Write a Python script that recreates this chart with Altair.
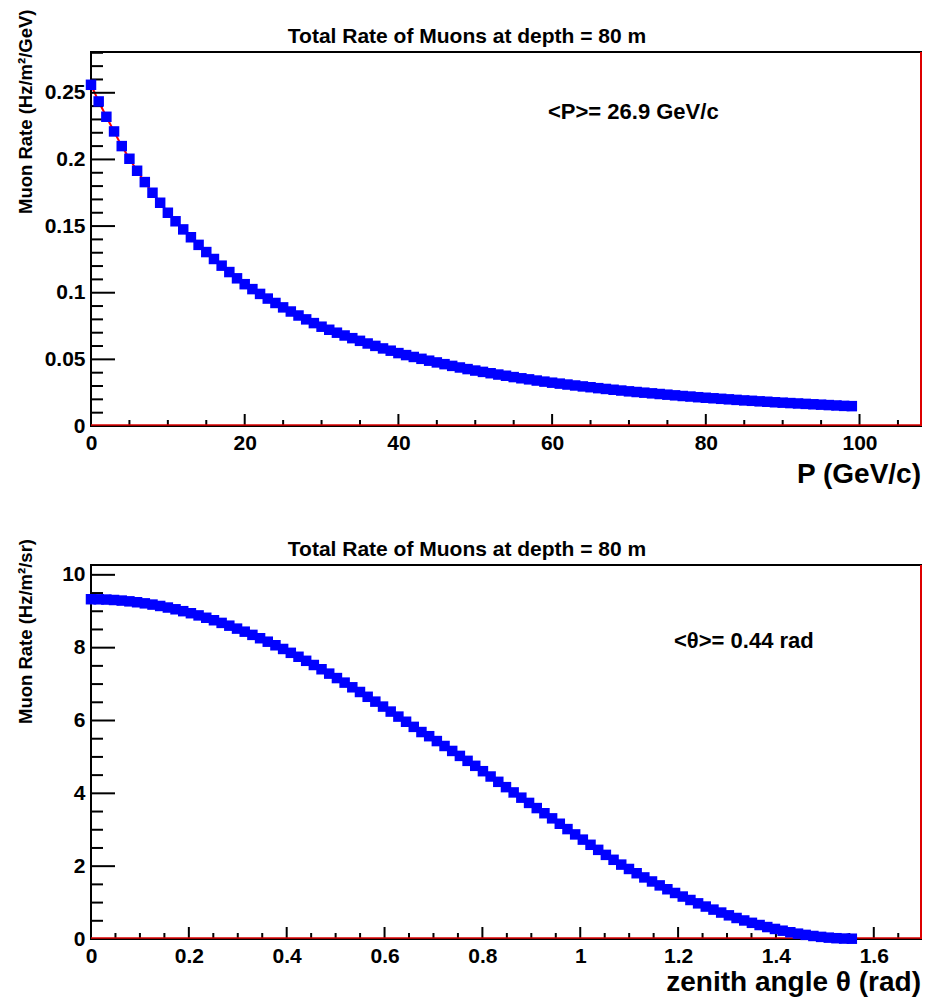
import altair as alt
import pandas as pd

FONT = "Liberation Sans"
W, H = 830, 374

# ---------------- top panel data ----------------
P_VALUES = list(range(100))
RATE_P = [
    0.2560, 0.2435, 0.2320, 0.2210, 0.2100, 0.2005, 0.1915, 0.1830, 0.1750, 0.1675,
    0.1600, 0.1536, 0.1475, 0.1416, 0.1359, 0.1305, 0.1253, 0.1203, 0.1155, 0.1108,
    0.1064, 0.1027, 0.0991, 0.0956, 0.0923, 0.0890, 0.0859, 0.0829, 0.0800, 0.0772,
    0.0745, 0.0722, 0.0700, 0.0679, 0.0659, 0.0639, 0.0619, 0.0601, 0.0582, 0.0565,
    0.0547, 0.0532, 0.0518, 0.0504, 0.0490, 0.0477, 0.0464, 0.0451, 0.0439, 0.0427,
    0.0416, 0.0406, 0.0396, 0.0386, 0.0377, 0.0367, 0.0358, 0.0350, 0.0341, 0.0333,
    0.0325, 0.0318, 0.0311, 0.0304, 0.0297, 0.0291, 0.0284, 0.0278, 0.0272, 0.0266,
    0.0260, 0.0255, 0.0250, 0.0245, 0.0240, 0.0235, 0.0230, 0.0225, 0.0221, 0.0216,
    0.0212, 0.0208, 0.0204, 0.0200, 0.0196, 0.0192, 0.0189, 0.0185, 0.0182, 0.0178,
    0.0175, 0.0172, 0.0169, 0.0166, 0.0163, 0.0160, 0.0157, 0.0154, 0.0151, 0.0149,
]
P_DOMAIN = [0, 108]
RATE_P_DOMAIN = [0, 0.2806]
P_MAJOR = [0, 20, 40, 60, 80, 100]
P_MINOR = [5, 10, 15, 25, 30, 35, 45, 50, 55, 65, 70, 75, 85, 90, 95, 105]
RP_MAJOR = [0, 0.05, 0.1, 0.15, 0.2, 0.25]
RP_MINOR = [0.01, 0.02, 0.03, 0.04, 0.06, 0.07, 0.08, 0.09, 0.11, 0.12, 0.13, 0.14,
            0.16, 0.17, 0.18, 0.19, 0.21, 0.22, 0.23, 0.24, 0.26, 0.27, 0.28]
TITLE = "Total Rate of Muons at depth = 80 m"
TOP_YTITLE = "Muon Rate (Hz/m\u00b2/GeV)"
TOP_XTITLE = "P (GeV/c)"
TOP_NOTE = "<P>= 26.9 GeV/c"

# ---------------- bottom panel data ----------------
THETA = [
    0.0000, 0.0157, 0.0314, 0.0471, 0.0628, 0.0785, 0.0942, 0.1100, 0.1257, 0.1414,
    0.1571, 0.1728, 0.1885, 0.2042, 0.2199, 0.2356, 0.2513, 0.2670, 0.2827, 0.2985,
    0.3142, 0.3299, 0.3456, 0.3613, 0.3770, 0.3927, 0.4084, 0.4241, 0.4398, 0.4555,
    0.4712, 0.4869, 0.5027, 0.5184, 0.5341, 0.5498, 0.5655, 0.5812, 0.5969, 0.6126,
    0.6283, 0.6440, 0.6597, 0.6754, 0.6912, 0.7069, 0.7226, 0.7383, 0.7540, 0.7697,
    0.7854, 0.8011, 0.8168, 0.8325, 0.8482, 0.8639, 0.8796, 0.8954, 0.9111, 0.9268,
    0.9425, 0.9582, 0.9739, 0.9896, 1.0053, 1.0210, 1.0367, 1.0524, 1.0681, 1.0838,
    1.0996, 1.1153, 1.1310, 1.1467, 1.1624, 1.1781, 1.1938, 1.2095, 1.2252, 1.2409,
    1.2566, 1.2723, 1.2881, 1.3038, 1.3195, 1.3352, 1.3509, 1.3666, 1.3823, 1.3980,
    1.4137, 1.4294, 1.4451, 1.4608, 1.4765, 1.4923, 1.5080, 1.5237, 1.5394, 1.5551,
]
RATE_T = [
    9.330, 9.328, 9.321, 9.309, 9.293, 9.272, 9.247, 9.217, 9.183, 9.145,
    9.102, 9.054, 9.002, 8.946, 8.886, 8.821, 8.753, 8.680, 8.604, 8.523,
    8.439, 8.351, 8.259, 8.164, 8.066, 7.964, 7.858, 7.750, 7.639, 7.524,
    7.407, 7.287, 7.165, 7.040, 6.912, 6.783, 6.651, 6.518, 6.382, 6.245,
    6.107, 5.966, 5.825, 5.683, 5.569, 5.435, 5.300, 5.164, 5.028, 4.892,
    4.755, 4.608, 4.462, 4.316, 4.170, 4.025, 3.881, 3.737, 3.595, 3.454,
    3.313, 3.165, 3.018, 2.872, 2.729, 2.587, 2.448, 2.310, 2.175, 2.043,
    1.923, 1.806, 1.691, 1.580, 1.472, 1.366, 1.264, 1.166, 1.071, 0.979,
    0.891, 0.807, 0.726, 0.650, 0.577, 0.509, 0.444, 0.384, 0.328, 0.276,
    0.228, 0.185, 0.147, 0.113, 0.083, 0.058, 0.037, 0.022, 0.012, 0.008,
]
T_DOMAIN = [0, 1.6965]
RATE_T_DOMAIN = [0, 10.27]
T_MAJOR = [0, 0.2, 0.4, 0.6, 0.8, 1.0, 1.2, 1.4, 1.6]
T_MINOR = [0.05, 0.1, 0.15, 0.25, 0.3, 0.35, 0.45, 0.5, 0.55, 0.65, 0.7, 0.75,
           0.85, 0.9, 0.95, 1.05, 1.1, 1.15, 1.25, 1.3, 1.35, 1.45, 1.5, 1.55, 1.65]
RT_MAJOR = [0, 2, 4, 6, 8, 10]
RT_MINOR = [0.5, 1, 1.5, 2.5, 3, 3.5, 4.5, 5, 5.5, 6.5, 7, 7.5, 8.5, 9, 9.5]
BOT_YTITLE = "Muon Rate (Hz/m\u00b2/sr)"
BOT_XTITLE = "zenith angle \u03b8 (rad)"
BOT_NOTE = "<\u03b8>= 0.44 rad"


def text_layer(txt, x, y, size, align="left", angle=0, weight="bold"):
    return alt.Chart(pd.DataFrame({"t": [txt]})).mark_text(
        font=FONT, fontSize=size, fontWeight=weight, align=align,
        baseline="alphabetic", angle=angle, color="black"
    ).encode(text="t:N", x=alt.value(x), y=alt.value(y))


def make_axis(values):
    return alt.Axis(
        values=values, labelExpr="'' + datum.value", ticks=False, tickSize=0,
        domain=False, grid=False, labelFont=FONT, labelFontSize=21,
        labelFontWeight="bold", labelColor="black", labelPadding=6, title=None,
        labelFlush=False, labelOverlap=False)


def panel(xs, ys, xdom, ydom, xmaj, xmin, ymaj, ymin, ytitle, xtitle, note,
          note_xy, ytitle_y, xtitle_y, marker=False):
    xsc = alt.Scale(domain=xdom, nice=False, zero=False)
    ysc = alt.Scale(domain=ydom, nice=False, zero=False)
    xax = make_axis(xmaj)
    yax = make_axis(ymaj)
    df = pd.DataFrame({"x": xs, "y": ys})
    base = alt.Chart(df)
    curve = base.mark_line(color="#ff0000", strokeWidth=2).encode(
        x=alt.X("x:Q", scale=xsc, axis=xax),
        y=alt.Y("y:Q", scale=ysc, axis=yax),
    )
    pts = base.mark_square(size=110, color="#0000ff", opacity=1).encode(
        x=alt.X("x:Q", scale=xsc, axis=xax),
        y=alt.Y("y:Q", scale=ysc, axis=yax),
    )
    ymaj_r = alt.Chart(pd.DataFrame({"v": ymaj})).mark_rule(color="black", strokeWidth=2).encode(
        y=alt.Y("v:Q", scale=ysc, axis=yax), x=alt.value(0), x2=alt.value(24))
    ymin_r = alt.Chart(pd.DataFrame({"v": ymin})).mark_rule(color="black", strokeWidth=2).encode(
        y=alt.Y("v:Q", scale=ysc, axis=yax), x=alt.value(0), x2=alt.value(12))
    xmaj_r = alt.Chart(pd.DataFrame({"v": xmaj})).mark_rule(color="black", strokeWidth=2).encode(
        x=alt.X("v:Q", scale=xsc, axis=xax), y=alt.value(H), y2=alt.value(H - 12))
    xmin_r = alt.Chart(pd.DataFrame({"v": xmin})).mark_rule(color="black", strokeWidth=2).encode(
        x=alt.X("v:Q", scale=xsc, axis=xax), y=alt.value(H), y2=alt.value(H - 6))
    red_bottom = alt.Chart(pd.DataFrame({"v": [0]})).mark_rule(color="#dd0000", strokeWidth=1.5).encode(
        x=alt.value(0), x2=alt.value(W), y=alt.value(H - 1))
    red_right = alt.Chart(pd.DataFrame({"v": [0]})).mark_rule(color="#dd0000", strokeWidth=2).encode(
        x=alt.value(W), y=alt.value(0), y2=alt.value(H))
    layers = [curve, ymaj_r, ymin_r, xmaj_r, xmin_r, red_bottom, red_right, pts,
              text_layer(TITLE, 376, -9, 21, align="center"),
              text_layer(ytitle, -59, ytitle_y, 18.5, align="left", angle=270),
              text_layer(xtitle, W, H + xtitle_y, 28, align="right"),
              text_layer(note, note_xy[0], note_xy[1], 22, align="left")]
    if marker:
        layers.append(alt.Chart(pd.DataFrame({"v": [0]})).mark_rule(opacity=0, strokeWidth=1).encode(
            x=alt.value(-90), x2=alt.value(-89), y=alt.value(-51), y2=alt.value(-50)))
    return alt.layer(*layers).properties(width=W, height=H)


top = panel(P_VALUES, RATE_P, P_DOMAIN, RATE_P_DOMAIN, P_MAJOR, P_MINOR,
            RP_MAJOR, RP_MINOR, TOP_YTITLE, TOP_XTITLE, TOP_NOTE,
            (457, 67), 162, 57, marker=True)
bottom = panel(THETA, RATE_T, T_DOMAIN, RATE_T_DOMAIN, T_MAJOR, T_MINOR,
               RT_MAJOR, RT_MINOR, BOT_YTITLE, BOT_XTITLE, BOT_NOTE,
               (583, 83), 159, 52)

chart = alt.vconcat(top, bottom, spacing=139, bounds="flush").properties(
    padding=0, background="white"
).configure_view(stroke="black", strokeWidth=2)

chart.save("out.html", embed_options={"renderer": "svg", "actions": False})
